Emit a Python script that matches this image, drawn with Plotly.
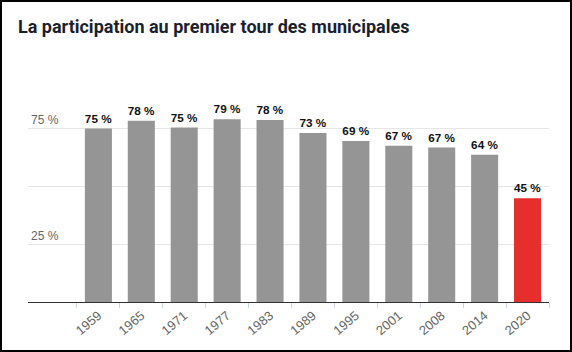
import plotly.graph_objects as go

years = ["1959", "1965", "1971", "1977", "1983", "1989", "1995", "2001", "2008", "2014", "2020"]
turnout = [74.8, 78.1, 75.2, 78.8, 78.4, 72.8, 69.4, 67.3, 66.6, 63.5, 44.7]
bar_colors = ["#959595"] * 10 + ["#e62e2d"]
ytick_vals = [0, 25, 50, 75, 100]
ytick_text = ["", "25 %", "", "75 %", ""]

W, H = 572, 352
L, R, T, B = 28, 23, 70, 50
pw = W - L - R
ph = H - T - B

fig = go.Figure()
fig.add_trace(go.Bar(
    x=years,
    y=turnout,
    marker=dict(color=bar_colors, line=dict(width=0)),
    text=[f"{round(v)} %" for v in turnout],
    textposition="outside",
    textfont=dict(family="Liberation Sans, Arial, sans-serif", size=12, color="#111111", weight="bold"),
    cliponaxis=False,
    hoverinfo="skip",
))

fig.update_layout(
    width=W, height=H,
    margin=dict(l=L, r=R, t=T, b=B, pad=0),
    paper_bgcolor="white",
    plot_bgcolor="white",
    showlegend=False,
    bargap=0.37,
    title=dict(
        text="<b>La participation au premier tour des municipales</b>",
        font=dict(family="Roboto, sans-serif", size=18, color="#1c1f2e"),
        x=18 / W, xref="container", xanchor="left",
        y=1 - 27 / H, yref="container", yanchor="middle",
    ),
    xaxis=dict(
        type="category",
        range=[-1.64, 10.5],
        tickson="boundaries",
        ticks="outside",
        ticklen=5,
        tickcolor="#ccd6eb",
        tickwidth=1,
        showline=True,
        linecolor="#333333",
        linewidth=1,
        showgrid=False,
        tickangle=-40,
        tickfont=dict(family="Liberation Sans, Arial, sans-serif", size=13, color="#666666"),
        fixedrange=True,
    ),
    yaxis=dict(
        range=[0, 100],
        tickvals=ytick_vals,
        ticktext=ytick_text,
        ticklabelposition="inside top",
        showgrid=True,
        gridcolor="#e6e6e6",
        gridwidth=1,
        zeroline=False,
        showline=False,
        ticks="",
        tickfont=dict(family="Liberation Sans, Arial, sans-serif", size=12, color="#666666"),
        fixedrange=True,
    ),
    shapes=[dict(
        type="rect", xref="paper", yref="paper",
        x0=(1 - L) / pw, x1=(W - 1 - L) / pw,
        y0=-(B - 1) / ph,
        y1=(T - 1) / ph + 1,
        line=dict(color="black", width=2),
        fillcolor="rgba(0,0,0,0)",
        layer="above",
    )],
)

fig.write_html("out.html", config={"displayModeBar": False})
